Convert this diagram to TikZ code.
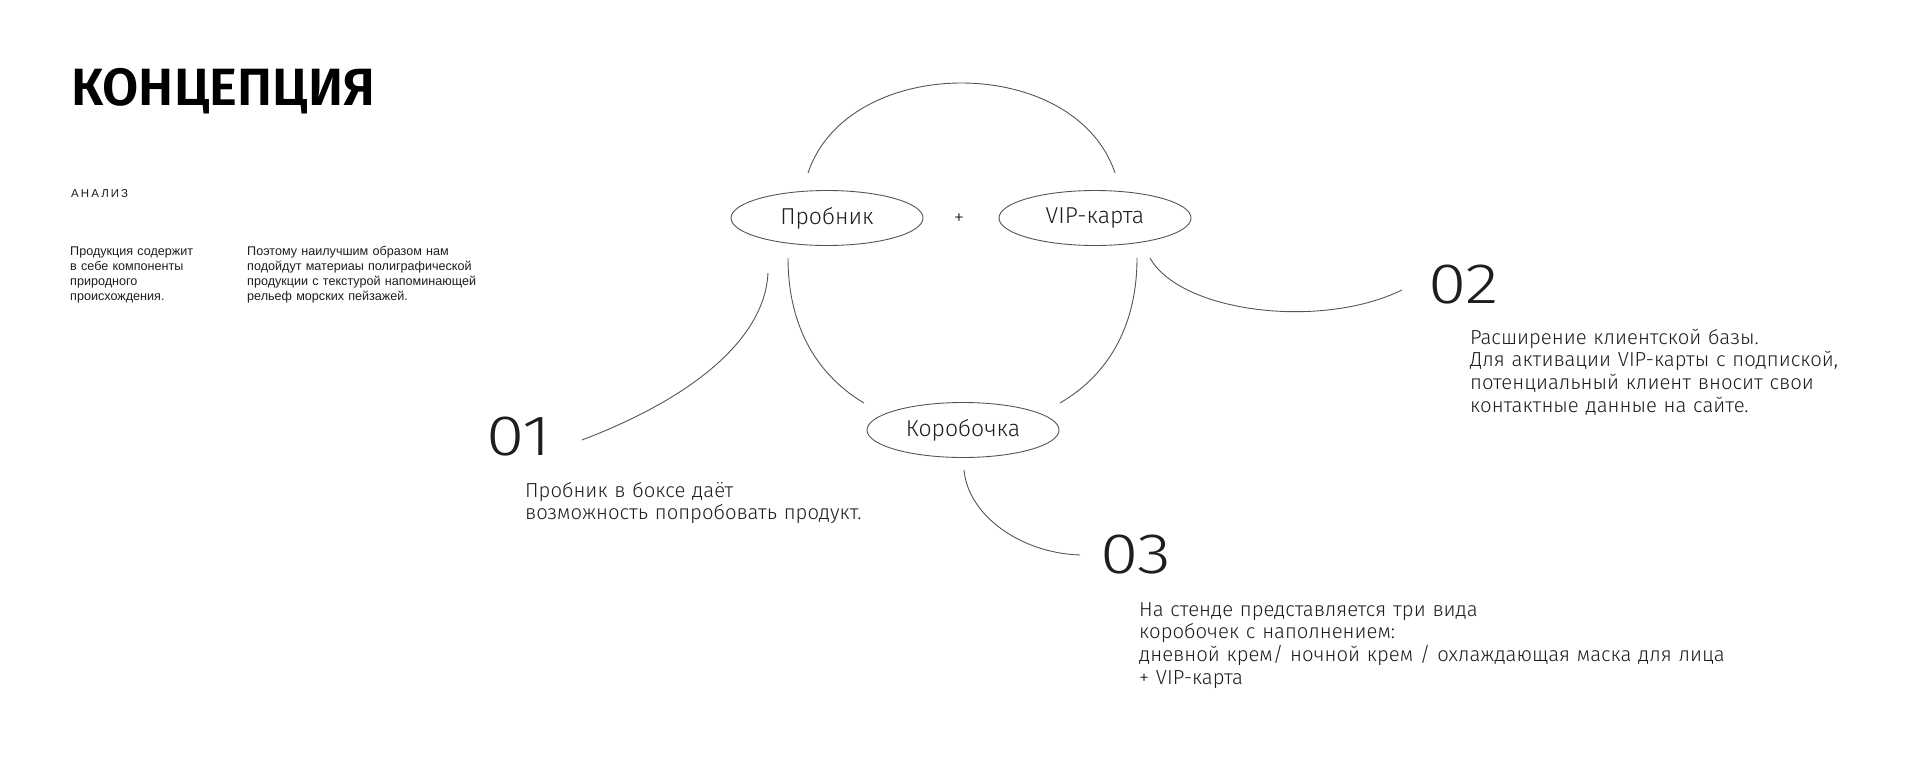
\documentclass[tikz,border=0pt]{standalone}
\usepackage{fontspec}
\setmainfont{Liberation Sans}
\newfontfamily\lightf{Fira Sans Light}
\newfontfamily\numf[FakeStretch=1.22]{Fira Sans Light}
\newfontfamily\titlef{Fira Sans SemiBold}
\usetikzlibrary{shapes.geometric}
\definecolor{ink}{HTML}{1E1E1E}
\definecolor{wire}{HTML}{555555}
\tikzset{
  oval/.style={ellipse, draw=wire, line width=0.9pt, minimum width=192pt, minimum height=55pt, inner sep=0pt, text=ink, font=\lightf\fontsize{23}{26}\selectfont},
  link/.style={draw=wire, line width=0.9pt},
  bignum/.style={anchor=base west, inner sep=0pt, text=ink, font=\numf\fontsize{57}{60}\selectfont},
  desc/.style={anchor=base west, inner sep=0pt, text=ink, align=left, font=\lightf\fontsize{20.3}{22.8}\selectfont},
  small/.style={anchor=base west, inner sep=0pt, text=ink, align=left, font=\fontsize{12.6}{15}\selectfont},
}
\begin{document}
\begin{tikzpicture}[x=1pt,y=-1pt]
\useasboundingbox[fill=white] (0,0) rectangle (1920,780);

% left header
\node[anchor=base west, inner sep=0pt, text=black, font=\titlef\fontsize{52.5}{56}\selectfont] (title) at (71,105) {КОНЦЕПЦИЯ};
\node[anchor=base west, inner sep=0pt, text=ink, font=\addfontfeatures{LetterSpace=18}\fontsize{11.5}{14}\selectfont] (anal) at (71,197) {АНАЛИЗ};
\node[small, text width=160pt] (col1) at (70,255) {Продукция содержит\\в себе компоненты\\природного\\происхождения.};
\node[small, text width=260pt] (col2) at (247,255) {Поэтому наилучшим образом нам\\подойдут материаы полиграфической\\продукции с текстурой напоминающей\\рельеф морских пейзажей.};

% ovals
\node[oval] (P) at (827,218) {Пробник};
\node[oval] (V) at (1095,218) {VIP-карта};
\node[oval] (K) at (963,430) {Коробочка};
\node[inner sep=0pt, text=ink, font=\lightf\fontsize{21}{24}\selectfont] (plus) at (959,219) {+};

% numbers and descriptions
\node[bignum] (n1) at (486,455) {01};
\node[desc, text width=400pt] (t1) at (525,497) {Пробник в боксе даёт\\возможность попробовать продукт.};
\node[bignum] (n2) at (1428,303) {02};
\node[desc, text width=420pt] (t2) at (1470,344) {Расширение клиентской базы.\\Для активации VIP-карты с подпиской,\\потенциальный клиент вносит свои\\контактные данные на сайте.};
\node[bignum] (n3) at (1100,573) {03};
\node[desc, text width=660pt] (t3) at (1139,616) {На стенде представляется три вида\\коробочек с наполнением:\\дневной крем/ ночной крем / охлаждающая маска для лица\\+ VIP-карта};

% connector end points
\coordinate (topA) at (808,173);
\coordinate (topB) at (1115,173);
\coordinate (pk1) at (788,258);
\coordinate (kp1) at (864,403);
\coordinate (vk1) at (1137,258);
\coordinate (kv1) at (1060,403);
\coordinate (p01) at (768,273);
\coordinate (e01) at (582,440);
\coordinate (v02) at (1150,258);
\coordinate (e02) at (1402,290);
\coordinate (k03) at (964,470);
\coordinate (e03) at (1080,555);

% connectors
\draw[link] (topA) .. controls (848,53) and (1075,53) .. (topB);
\draw[link] (pk1) .. controls (788,320) and (812,372) .. (kp1);
\draw[link] (vk1) .. controls (1137,320) and (1113,372) .. (kv1);
\draw[link] (p01) .. controls (765,335) and (700,395) .. (e01);
\draw[link] (v02) .. controls (1180,312) and (1320,330) .. (e02);
\draw[link] (k03) .. controls (968,515) and (1020,553) .. (e03);
\end{tikzpicture}
\end{document}
